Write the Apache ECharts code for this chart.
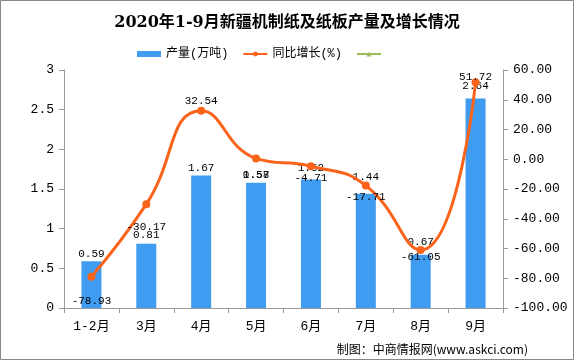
<!DOCTYPE html>
<html><head><meta charset="utf-8">
<script src="https://cdn.jsdelivr.net/npm/echarts@6/dist/echarts.min.js"></script>
<style>html,body{margin:0;padding:0;background:#fff}#c{width:574px;height:360px}</style>
</head><body><div id="c"></div>
<script>
const categories = ['1-2月','3月','4月','5月','6月','7月','8月','9月'];
const output = [0.59, 0.81, 1.67, 1.58, 1.62, 1.44, 0.67, 2.64];
const growth = [-78.93, -30.17, 32.54, 0.57, -4.71, -17.71, -61.05, 51.72];
const leftTicks = [0, 0.5, 1, 1.5, 2, 2.5, 3];
const rightTicks = [-100, -80, -60, -40, -20, 0, 20, 40, 60];
const growthLabelDy = [24, 23, -10, 17, 12, 12, 7, -5];
const outputLabelDy = [-8, -9, -8, -8, -12, -17, -13, -13];

const mono = "'Liberation Mono','Noto Sans CJK SC'";
const chart = echarts.init(document.getElementById('c'), null, {renderer:'canvas'});
chart.setOption({
  backgroundColor:'#fff',
  animation:false,
  title:{text:'2020年1-9月新疆机制纸及纸板产量及增长情况', left:'center', top:10,
    textStyle:{fontSize:16, fontWeight:'bold', color:'#000', fontFamily:"'DejaVu Serif','Noto Sans CJK SC'"}},
  legend:{top:43, left:132, itemGap:14, itemWidth:24, itemHeight:6,
    textStyle:{fontSize:12, color:'#000', fontFamily:mono},
    data:[{name:'产量(万吨)', icon:'rect'}, {name:'同比增长(%)'}, {name:' '}]},
  grid:{left:64, right:71, top:70, bottom:52},
  xAxis:{type:'category', data:categories, boundaryGap:true,
    axisLine:{lineStyle:{color:'#999'}}, axisTick:{show:true, length:5, lineStyle:{color:'#999'}},
    axisLabel:{color:'#000', fontSize:13, margin:12, fontFamily:mono}},
  yAxis:[
    {type:'value', min:0, max:3, interval:0.5, splitLine:{show:false},
      axisLine:{show:true, lineStyle:{color:'#999'}}, axisTick:{show:true, length:5, lineStyle:{color:'#999'}},
      axisLabel:{color:'#000', fontSize:13, margin:10, fontFamily:mono}},
    {type:'value', min:-100, max:60, interval:20, splitLine:{show:false}, position:'right',
      axisLine:{show:true, lineStyle:{color:'#999'}}, axisTick:{show:true, length:5, lineStyle:{color:'#999'}},
      axisLabel:{color:'#000', fontSize:13, margin:10, fontFamily:mono, formatter:v=>v.toFixed(2)}}
  ],
  series:[
    {name:'产量(万吨)', type:'bar', yAxisIndex:0, barWidth:20,
      data:output.map((v,i)=>({value:v, label:{offset:[0, outputLabelDy[i]+6]}})),
      itemStyle:{color:'#3f9cf0'},
      label:{show:true, position:'top', color:'#000', fontSize:11, fontFamily:mono, distance:0}},
    {name:'同比增长(%)', type:'line', yAxisIndex:1, smooth:0.5, z:5,
      data:growth.map((v,i)=>({value:v, label:{offset:[0, growthLabelDy[i]]}})),
      symbol:'circle', symbolSize:8,
      lineStyle:{color:'#fa6319', width:3}, itemStyle:{color:'#fa6319'},
      label:{show:true, position:'inside', color:'#000', fontSize:11, fontFamily:mono}},
    {name:' ', type:'line', yAxisIndex:1, data:[], symbol:'triangle', symbolSize:8,
      lineStyle:{color:'#9bbb59', width:3}, itemStyle:{color:'#9bbb59'}}
  ],
  graphic:[
    {type:'rect', shape:{x:0.5, y:0.5, width:573, height:359}, style:{fill:null, stroke:'#888', lineWidth:1}, silent:true},
    {type:'text', right:46, bottom:5, style:{text:'制图：中商情报网(www.askci.com)', fill:'#000', font:"12px 'Noto Sans CJK SC'"}}
  ]
});
</script></body></html>
